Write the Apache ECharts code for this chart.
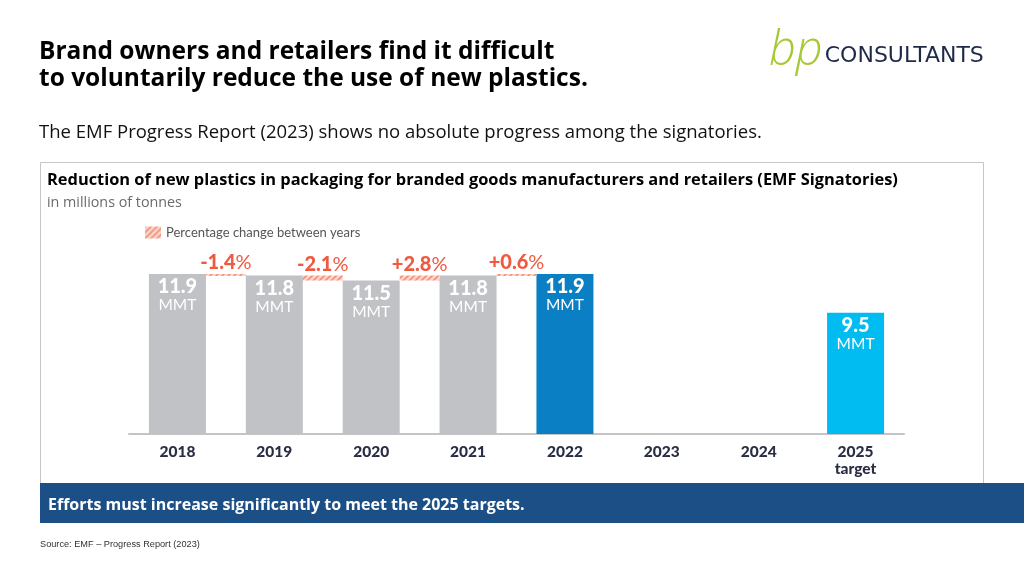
<!DOCTYPE html>
<html>
<head>
<meta charset="utf-8">
<script src="https://cdn.jsdelivr.net/npm/echarts/dist/echarts.min.js"></script>
<style>
  html, body { margin: 0; padding: 0; background: #ffffff; }
  #chart { width: 1024px; height: 576px; }
</style>
</head>
<body>
<div id="chart"></div>
<script>
// ---- data ----
const categories = ['2018', '2019', '2020', '2021', '2022', '2023', '2024', '2025\ntarget'];
const values = [11.9, 11.8, 11.5, 11.8, 11.9, null, null, 9.5];   // million tonnes
const pctChange = [-1.4, -2.1, 2.8, 0.6];                          // change between consecutive years
const unitLabel = 'MMT';
const legendName = 'Percentage change between years';

// ---- styles ----
const BAR_W = 57;
const barColors = ['#c1c2c6', '#c1c2c6', '#c1c2c6', '#c1c2c6', '#0a7fc4', '#c1c2c6', '#c1c2c6', '#00bcf0'];
const PCT_COLOR = '#ef5a40';

function makeHatch() {
  const s = 6;
  const c = document.createElement('canvas');
  c.width = s; c.height = s;
  const g = c.getContext('2d');
  g.fillStyle = '#fcd6cc';
  g.fillRect(0, 0, s, s);
  g.strokeStyle = '#f2907a';
  g.lineWidth = 1.6;
  g.beginPath();
  g.moveTo(0, s); g.lineTo(s, 0);
  g.moveTo(-s / 2, s / 2); g.lineTo(s / 2, -s / 2);
  g.moveTo(s / 2, s * 1.5); g.lineTo(s * 1.5, s / 2);
  g.stroke();
  return { image: c, repeat: 'repeat' };
}
const hatch = makeHatch();

const chart = echarts.init(document.getElementById('chart'), null, { renderer: 'canvas' });

const barData = values.map((v, i) => ({ value: v, itemStyle: { color: barColors[i] } }));
const changeData = pctChange.map((p, i) => [i, values[i], values[i + 1], p]);

const titleFont = 'Open Sans';
const chartFont = 'Lato';

const option = {
  backgroundColor: '#ffffff',
  animation: false,
  textStyle: { fontFamily: chartFont },
  title: [
    { text: 'Brand owners and retailers find it difficult\nto voluntarily reduce the use of new plastics.',
      left: 39, top: 39, padding: 0,
      textStyle: { fontFamily: titleFont, fontWeight: 'bold', fontSize: 24.5, lineHeight: 27, color: '#000' } },
    { text: 'The EMF Progress Report (2023) shows no absolute progress among the signatories.',
      left: 39, top: 122, padding: 0,
      textStyle: { fontFamily: titleFont, fontWeight: 'normal', fontSize: 18.5, lineHeight: 22, color: '#111' } },
    { text: 'Reduction of new plastics in packaging for branded goods manufacturers and retailers (EMF Signatories)',
      left: 47, top: 170, padding: 0,
      textStyle: { fontFamily: titleFont, fontWeight: 'bold', fontSize: 16.4, lineHeight: 20, color: '#000' } },
    { text: 'in millions of tonnes',
      left: 47, top: 194, padding: 0,
      textStyle: { fontFamily: titleFont, fontWeight: 'normal', fontSize: 14.3, lineHeight: 18, color: '#6b6b6b' } },
    { text: 'Efforts must increase significantly to meet the 2025 targets.',
      left: 48, top: 495, padding: 0,
      textStyle: { fontFamily: titleFont, fontWeight: 'bold', fontSize: 16, lineHeight: 20, color: '#ffffff' } },
    { text: 'Source: EMF – Progress Report (2023)',
      left: 40, top: 538, padding: 0,
      textStyle: { fontFamily: 'Liberation Sans', fontWeight: 'normal', fontSize: 9.2, lineHeight: 12, color: '#333' } },
    { text: '{b|bp}{c|CONSULTANTS}',
      left: 769, top: 26, padding: 0,
      textStyle: {
        rich: {
          b: { fontFamily: 'Open Sans', fontStyle: 'italic', fontWeight: 300, fontSize: 47, color: '#a6c833', lineHeight: 52, padding: [0, 2, 0, 0] },
          c: { fontFamily: 'DejaVu Sans', fontWeight: 'normal', fontSize: 22, color: '#1f2a48', lineHeight: 52, padding: [8, 0, 0, 0] }
        }
      } }
  ],
  graphic: [
    { type: 'rect', shape: { x: 40.5, y: 162.5, width: 943, height: 321 },
      style: { fill: 'none', stroke: '#c6c6c6', lineWidth: 1 }, z: 0, silent: true },
    { type: 'rect', shape: { x: 40, y: 483, width: 984, height: 40 },
      style: { fill: '#1d4f87' }, z: 1, silent: true }
  ],
  legend: {
    left: 140, top: 221,
    itemWidth: 16, itemHeight: 12, icon: 'rect',
    data: [{ name: legendName, itemStyle: { color: hatch } }],
    textStyle: { fontFamily: chartFont, fontSize: 13, color: '#555' },
    selectedMode: false
  },
  grid: { left: 129, right: 120, top: 240, bottom: 142 },
  xAxis: {
    type: 'category',
    data: categories,
    axisLine: { lineStyle: { color: '#c4c4c4', width: 2 } },
    axisTick: { show: false },
    axisLabel: { color: '#2a2e44', fontWeight: 900, fontSize: 15.5, lineHeight: 17, margin: 9, fontFamily: chartFont, interval: 0 }
  },
  yAxis: {
    type: 'value', min: 2, max: 14, show: false, splitLine: { show: false }
  },
  series: [
    {
      type: 'bar',
      data: barData,
      barWidth: BAR_W,
      label: {
        show: true, position: 'insideTop', distance: 3,
        formatter: p => '{v|' + p.value + '}\n{u|' + unitLabel + '}',
        rich: {
          v: { fontFamily: chartFont, fontWeight: 900, fontSize: 20, lineHeight: 20, color: '#fff', align: 'center' },
          u: { fontFamily: chartFont, fontWeight: 'normal', fontSize: 15.5, lineHeight: 17, color: '#fff', align: 'center' }
        }
      },
      z: 2
    },
    {
      type: 'custom',
      name: legendName,
      itemStyle: { color: hatch },
      data: changeData,
      encode: { x: 0, y: [1, 2] },
      renderItem: function (params, api) {
        const i = api.value(0);
        const a = api.value(1), b = api.value(2), p = api.value(3);
        const p0 = api.coord([i, a]);
        const p1 = api.coord([i + 1, b]);
        const x0 = p0[0] + BAR_W / 2, x1 = p1[0] - BAR_W / 2;
        const yTop = Math.min(p0[1], p1[1]);
        const yBot = Math.max(p0[1], p1[1]);
        const sign = p > 0 ? '+' : '';
        return {
          type: 'group',
          children: [
            { type: 'rect', shape: { x: x0, y: yTop, width: x1 - x0, height: Math.max(yBot - yTop, 2) },
              style: { fill: hatch } },
            { type: 'text', x: (x0 + x1) / 2, y: yTop - 1,
              style: {
                text: '{n|' + sign + p.toFixed(1) + '}{p|%}',
                fill: PCT_COLOR,
                align: 'center', verticalAlign: 'bottom',
                rich: {
                  n: { fontFamily: chartFont, fontWeight: 900, fontSize: 20, fill: PCT_COLOR, color: PCT_COLOR },
                  p: { fontFamily: chartFont, fontWeight: 'normal', fontSize: 20, fill: PCT_COLOR, color: PCT_COLOR }
                }
              } }
          ]
        };
      },
      z: 3
    }
  ]
};

chart.setOption(option);
</script>
</body>
</html>
